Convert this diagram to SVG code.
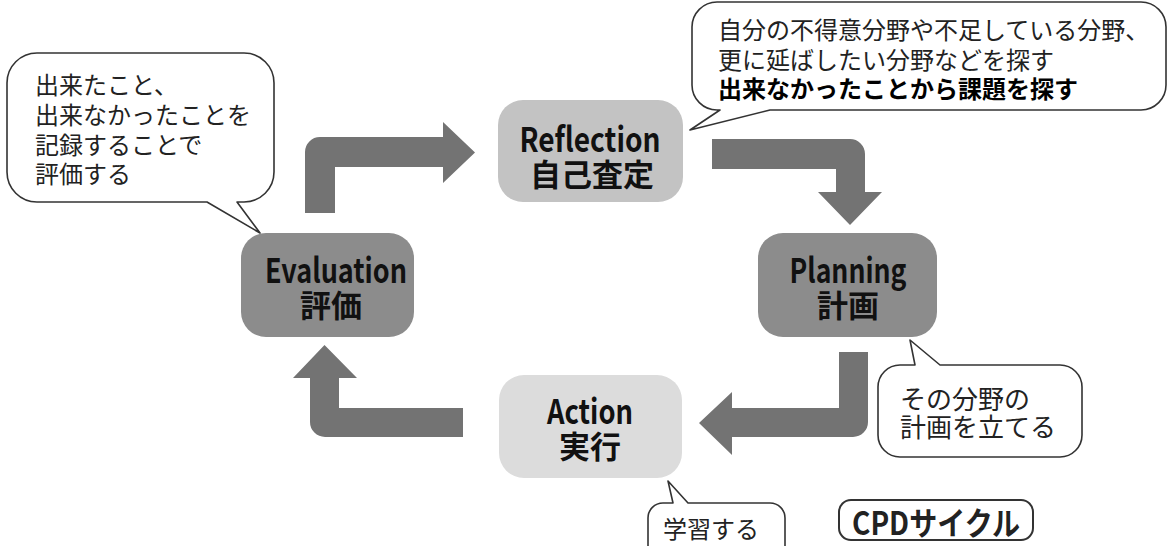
<svg xmlns="http://www.w3.org/2000/svg" width="1168" height="546" viewBox="0 0 1168 546">
<style>
.callout{fill:#fff;stroke:#333;stroke-width:1.6;stroke-linejoin:round}
.arrow{fill:#737373}
.t{font-family:"Noto Sans CJK JP","Liberation Sans",sans-serif;fill:#222;dominant-baseline:central}
.nl{font-family:"Noto Sans CJK JP","Liberation Sans",sans-serif;fill:#111;font-weight:bold;text-anchor:middle;dominant-baseline:central}
</style>
<rect width="1168" height="546" fill="#fff"/>
<g id="connectors">
<path class="arrow" d="M305,213 V152 A15 15 0 0 1 320,137 H443 V122 L475,152.5 L443,183 V167 H335 V213 Z"/>
<path class="arrow" d="M712,139 H850 A15 15 0 0 1 865,154 V192 H882 L850,225 L818,192 H836 V169 H712 Z"/>
<path class="arrow" d="M839,352 H868 V422 A15 15 0 0 1 853,437 H732 V455 L699,423 L732,392 V408 H839 Z"/>
<path class="arrow" d="M463,408 V437 H325 A15 15 0 0 1 310,422 V378 H293 L324.5,345 L357,378 H339 V408 Z"/>
</g>
<g id="reflection">
<rect x="498" y="100" width="185" height="102" rx="25" fill="#c3c3c3"/>
<text class="nl"><tspan x="590" y="137" font-size="34" textLength="141" lengthAdjust="spacingAndGlyphs">Reflection</tspan><tspan x="592" y="171.5" font-size="31">自己査定</tspan></text>
</g>
<g id="evaluation">
<rect x="241" y="233" width="173" height="104" rx="25" fill="#8c8c8c"/>
<text class="nl"><tspan x="336" y="268" font-size="34" textLength="142" lengthAdjust="spacingAndGlyphs">Evaluation</tspan><tspan x="331" y="302.5" font-size="31">評価</tspan></text>
</g>
<g id="planning">
<rect x="758" y="233" width="179" height="104" rx="25" fill="#8c8c8c"/>
<text class="nl"><tspan x="848" y="268" font-size="34" textLength="117" lengthAdjust="spacingAndGlyphs">Planning</tspan><tspan x="848" y="302.5" font-size="31">計画</tspan></text>
</g>
<g id="action">
<rect x="499" y="375" width="183" height="103" rx="25" fill="#dcdcdc"/>
<text class="nl"><tspan x="590" y="409" font-size="34" textLength="86" lengthAdjust="spacingAndGlyphs">Action</tspan><tspan x="590" y="443.5" font-size="31">実行</tspan></text>
</g>
<g id="callout-evaluation">
<path class="callout" d="M37,53 H244 A30 30 0 0 1 274,83 V172 A30 30 0 0 1 244,202 H237 L260,233 L207,202 H37 A30 30 0 0 1 7,172 V83 A30 30 0 0 1 37,53 Z"/>
<text class="t" font-size="24"><tspan x="35" y="83">出来たこと、</tspan><tspan x="35" y="113">出来なかったことを</tspan><tspan x="35" y="143">記録することで</tspan><tspan x="35" y="172">評価する</tspan></text>
</g>
<g id="callout-reflection">
<path class="callout" d="M717,2 H1141 A25 25 0 0 1 1166,27 V85 A25 25 0 0 1 1141,110 H770 L690,130 L720,110 H717 A25 25 0 0 1 692,85 V27 A25 25 0 0 1 717,2 Z"/>
<text class="t" font-size="24"><tspan x="718" y="28">自分の不得意分野や不足している分野、</tspan><tspan x="718" y="58">更に延ばしたい分野などを探す</tspan><tspan x="718" y="87" font-weight="bold" fill="#000">出来なかったことから課題を探す</tspan></text>
</g>
<g id="callout-planning">
<path class="callout" d="M900,365 H915 L910,340 L940,365 H1060 A22 22 0 0 1 1082,387 V435 A22 22 0 0 1 1060,457 H900 A22 22 0 0 1 878,435 V387 A22 22 0 0 1 900,365 Z"/>
<text class="t" font-size="26"><tspan x="900" y="397">その分野の</tspan><tspan x="900" y="425">計画を立てる</tspan></text>
</g>
<g id="callout-action">
<path class="callout" d="M663,503 H673 L668,481 L688,503 H770 A15 15 0 0 1 785,518 V560 H648 V518 A15 15 0 0 1 663,503 Z"/>
<text class="t" x="663" y="527" font-size="24">学習する</text>
</g>
<g id="title">
<rect x="839" y="500" width="194" height="40" rx="12" fill="#fff" stroke="#333" stroke-width="2"/>
<text class="t" x="852" y="521" font-size="32" font-weight="bold" fill="#111" textLength="168" lengthAdjust="spacingAndGlyphs">CPDサイクル</text>
</g>
</svg>
